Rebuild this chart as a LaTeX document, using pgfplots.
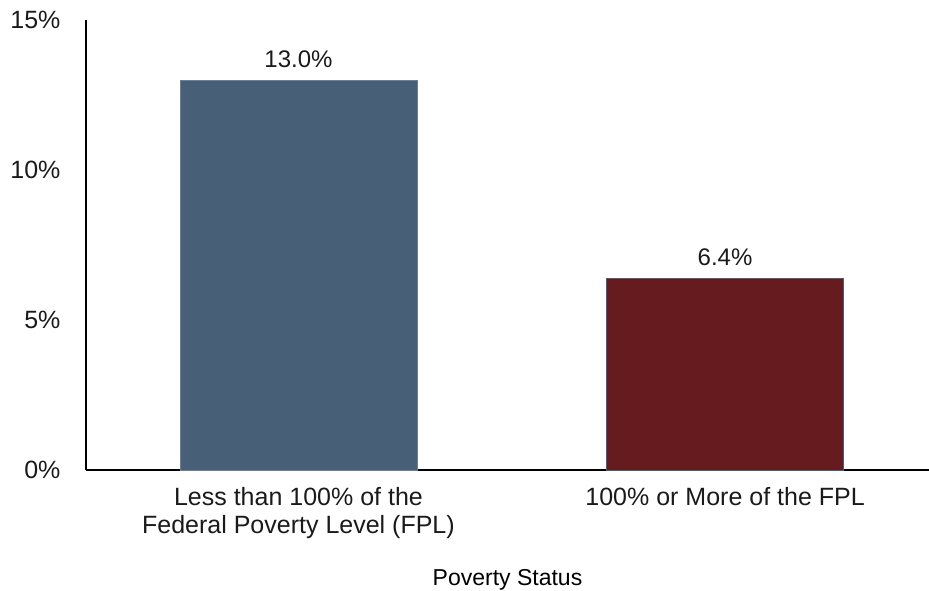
\documentclass[border=0pt]{standalone}
\usepackage{pgfplots}
\pgfplotsset{compat=1.18}
\usepackage{fontspec}
\setmainfont{Liberation Sans}
\definecolor{barblue}{HTML}{476078}
\definecolor{barred}{HTML}{661C1F}
\definecolor{txt}{HTML}{1A1A1A}
\begin{document}
\begin{tikzpicture}
\begin{axis}[
  at={(86pt,120pt)}, anchor=south west,
  scale only axis, width=843pt, height=450pt,
  xmin=-0.498, xmax=1.478, ymin=0, ymax=15,
  axis lines=left, axis line style={line width=1.6pt, -, black},
  xtick={0,1}, xticklabels={Less than 100\% of the\\Federal Poverty Level (FPL), 100\% or More of the FPL},
  xticklabel style={align=center, font=\fontsize{25}{28}\selectfont, text=txt, yshift=-14pt},
  ytick={0,5,10,15}, yticklabels={0\%,5\%,10\%,15\%},
  yticklabel style={font=\fontsize{25}{28}\selectfont, text=txt, xshift=-22pt},
  major tick length=0pt,
  xlabel={Poverty Status}, xlabel style={font=\fontsize{23}{26}\selectfont, text=black, yshift=-24pt},
  ybar, bar width=0.556, bar shift=0pt,
  nodes near coords, point meta=explicit symbolic,
  every node near coord/.append style={font=\fontsize{24}{26}\selectfont, text=txt, yshift=9pt},
  clip=false,
]
\addplot[fill=barblue, draw=barblue!80!white, line width=0.6pt] coordinates {(0,13.0) [13.0\%]};
\addplot[fill=barred, draw=barblue, line width=0.8pt] coordinates {(1,6.4) [6.4\%]};
\end{axis}
\pgfresetboundingbox
\path[use as bounding box] (0,0) rectangle (929pt,590pt);
\end{tikzpicture}
\end{document}
